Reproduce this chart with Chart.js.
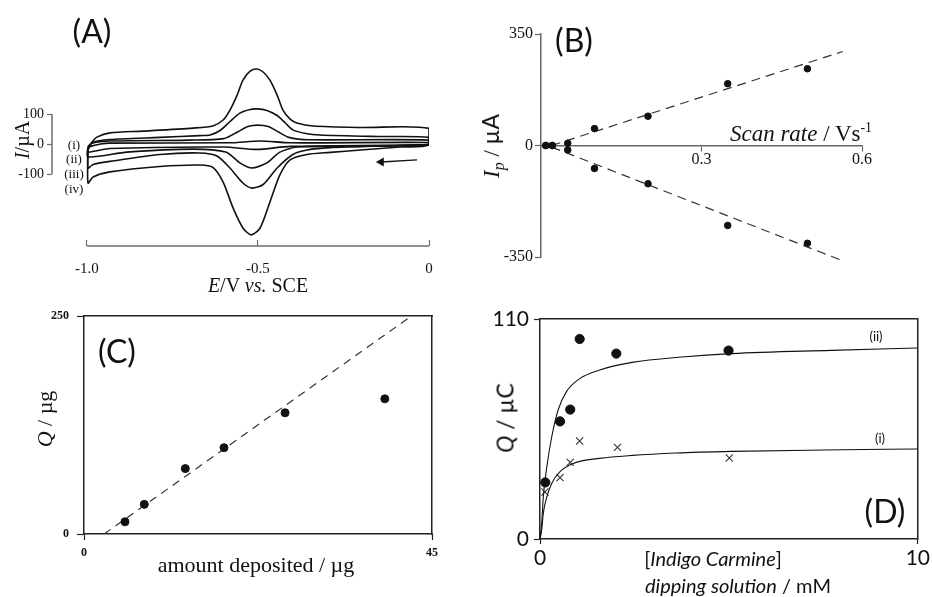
<!DOCTYPE html>
<html>
<head>
<meta charset="utf-8">
<script src="https://cdn.jsdelivr.net/npm/chart.js@4.4.1/dist/chart.umd.min.js"></script>
<style>
  body { margin: 0; background: #fff; }
  #page { position: relative; width: 932px; height: 597px; overflow: hidden; background: #fff; }
  .box { position: absolute; }
  .box canvas { display: block; }
  .t { position: absolute; white-space: nowrap; line-height: 1; color: #111; transform: translate(-50%, -50%); }
  .rot { transform: translate(-50%, -50%) rotate(-90deg); }
  .right { transform: translate(-100%, -50%); }
  .serif { font-family: "Liberation Serif", "DejaVu Serif", serif; }
  .sans { font-family: Lato, "Open Sans", sans-serif; }
  .sub { font-size: 0.7em; vertical-align: -0.3em; }
  .sup { font-size: 0.6em; vertical-align: 0.7em; }
</style>
</head>
<body>
<div id="page">
  <div class="box" style="left:0;top:0"><canvas id="chartA" width="466" height="300"></canvas></div>
  <div class="box" style="left:466px;top:0"><canvas id="chartB" width="466" height="300"></canvas></div>
  <div class="box" style="left:0;top:300px"><canvas id="chartC" width="466" height="297"></canvas></div>
  <div class="box" style="left:466px;top:300px"><canvas id="chartD" width="466" height="297"></canvas></div>

  <!-- panel (A) -->
  <div class="t sans" style="left:92px;top:31px;font-size:32px">(A)</div>
  <div class="t serif rot" style="left:22px;top:140px;font-size:20px"><i>I</i>/µA</div>
  <div class="t serif" style="left:74px;top:144px;font-size:13px">(i)</div>
  <div class="t serif" style="left:74px;top:158px;font-size:13px">(ii)</div>
  <div class="t serif" style="left:74px;top:173px;font-size:13px">(iii)</div>
  <div class="t serif" style="left:74px;top:188px;font-size:13px">(iv)</div>
  <div class="t serif" style="left:258px;top:285px;font-size:20px"><i>E</i>/V <i>vs.</i> SCE</div>

  <!-- panel (B) -->
  <div class="t sans" style="left:574px;top:40px;font-size:32px">(B)</div>
  <div class="t serif rot" style="left:493px;top:146px;font-size:23px"><i>I<span class="sub">p</span></i> / <span class="sans">µA</span></div>
  <div class="t serif right" style="left:872px;top:133px;font-size:23px"><i>Scan rate</i> / Vs<span class="sup">-1</span></div>

  <!-- panel (C) -->
  <div class="t sans" style="left:117px;top:351px;font-size:32px">(C)</div>
  <div class="t serif rot" style="left:45px;top:419px;font-size:22px"><i>Q</i> / µg</div>
  <div class="t serif" style="left:256px;top:565px;font-size:22px">amount deposited / µg</div>

  <!-- panel (D) -->
  <div class="t sans" style="left:885px;top:511px;font-size:32px">(D)</div>
  <div class="t sans" style="left:876px;top:336px;font-size:13px">(ii)</div>
  <div class="t sans" style="left:880px;top:438px;font-size:13px">(i)</div>
  <div class="t sans rot" style="left:505px;top:418px;font-size:23px"><i>Q</i> / µC</div>
  <div class="t sans" style="left:713px;top:558px;font-size:20px">[<i>Indigo Carmine</i>]</div>
  <div class="t sans" style="left:738px;top:585px;font-size:20px"><i>dipping solution</i> / mM</div>
</div>

<script>
// ---- (A) cyclic voltammograms: E / V vs SCE, I / uA, traced round each loop
var cv1E = [-0.997, -0.96, -0.933, -0.582, -0.494, -0.406, 0, 0, -0.406, -0.503, -0.6, -0.933, -0.997, -0.997];
var cv1I = [-10, 0, 3, 4, 10, 4, 5, -2, -8, -18, -10, -15, -27, -10];

var cv2E = [-0.997, -0.985, -0.933, -0.7, -0.6, -0.56, -0.53, -0.5, -0.47, -0.44, -0.41, -0.35, 0,
            0, -0.231, -0.386, -0.436, -0.474, -0.518, -0.553, -0.594, -0.69, -0.883, -0.997, -0.997];
var cv2I = [-8, 3, 10, 13, 18, 40, 58, 63, 58, 40, 22, 14, 13,
            -2, -8, -10, -27, -63, -80, -63, -27, -17, -27, -43, -8];

var cv3E = [-0.997, -0.985, -0.933, -0.787, -0.67, -0.64, -0.611, -0.582, -0.553, -0.523, -0.503, -0.474, -0.444, -0.42, -0.398, -0.36, -0.319, -0.15, 0,
            0, -0.085, -0.289, -0.357, -0.398, -0.444, -0.485, -0.518, -0.544, -0.582, -0.62, -0.67, -0.787, -0.933, -0.982, -0.997, -0.997];
var cv3I = [-13, 5, 15, 22, 28, 30, 45, 75, 103, 115, 117, 112, 95, 70, 47, 35, 30, 25, 22,
            0, -5, -12, -20, -35, -80, -135, -147, -130, -80, -40, -30, -35, -58, -68, -80, -13];

var cv4E = [-0.997, -0.985, -0.971, -0.933, -0.836, -0.69, -0.632, -0.602, -0.582, -0.561, -0.544, -0.523, -0.503, -0.485, -0.465, -0.444, -0.427, -0.406, -0.386, -0.339, -0.2, 0,
            0, -0.085, -0.2, -0.289, -0.357, -0.406, -0.436, -0.465, -0.494, -0.52, -0.544, -0.573, -0.602, -0.632, -0.67, -0.787, -0.933, -0.982, -0.997, -0.997];
var cv4I = [-20, 7, 23, 37, 43, 53, 60, 80, 113, 163, 213, 243, 250, 240, 213, 163, 113, 83, 70, 60, 55, 52,
            -3, -10, -20, -28, -35, -53, -103, -193, -280, -303, -280, -213, -127, -78, -70, -75, -93, -110, -130, -20];

var arrowE = [-0.035, -0.14];
var arrowI = [-53, -60];

var eTicks = [-1, -0.5, 0];
var eTickText = ["-1.0", "-0.5", "0"];
var iTicks = [-100, 0, 100];
var iTickText = ["-100", "0", "100"];

// ---- (B) peak current against scan rate
var scanRate = [0.009, 0.021, 0.05, 0.1, 0.2, 0.349, 0.498];
var ipAnodic = [0, 0, 7, 53, 92, 194, 241];
var ipCathodic = [0, 0, -14, -72, -120, -251, -307];
var fitAnodicX = [0.02, 0.564];
var fitAnodicY = [0, 295];
var fitCathodicX = [0.02, 0.558];
var fitCathodicY = [-5, -358];
var rateTicks = [0.3, 0.6];
var rateTickText = ["0.3", "0.6"];
var ipTicks = [-350, 0, 350];
var ipTickText = ["-350", "0", "350"];

// ---- (C) charge against amount deposited
var deposited = [5.3, 7.8, 13.1, 18.1, 26.0, 38.9];
var chargeC = [14, 34, 75, 99, 139, 155];
var fitCX = [2.6, 42.1];
var fitCY = [0, 248.5];
var depTicks = [0, 45];
var depTickText = ["0", "45"];
var qcTicks = [0, 250];
var qcTickText = ["0", "250"];

// ---- (D) charge against dipping solution concentration
var dipConc = [0.14, 0.53, 0.80, 1.05, 2.02, 4.99];
var chargeII = [28.3, 58.8, 64.7, 100, 92.7, 94.2];
var dipConcX = [0.13, 0.53, 0.80, 1.05, 2.05, 5.01];
var chargeI = [23.5, 30.7, 38.3, 49, 45.8, 40.5];
var curveIIX = [0, 0.045, 0.087, 0.18, 0.31, 0.48, 0.7, 1.06, 1.58, 2.44, 3.76, 5.08, 7.7, 10];
var curveIIY = [0, 8, 21, 36, 51, 64.5, 73.7, 80.3, 84.5, 88.3, 91, 92.7, 94.3, 95.5];
var curveIX = [0, 0.045, 0.087, 0.18, 0.31, 0.53, 0.88, 1.58, 2.44, 3.6, 5.08, 7.5, 10];
var curveIY = [0, 4.5, 12.8, 21, 27.8, 33.7, 37.8, 40.3, 41.8, 43, 43.8, 44.5, 45];
var concTicks = [0, 10];
var concTickText = ["0", "10"];
var qdTicks = [0, 110];
var qdTickText = ["0", "110"];

Chart.defaults.animation = false;
Chart.defaults.plugins.legend.display = false;
Chart.defaults.plugins.tooltip.enabled = false;
Chart.defaults.color = "#111";

var SERIF = "'Liberation Serif', 'DejaVu Serif', serif";
var SANS = "Lato, 'Open Sans', sans-serif";

function pts(xs, ys) {
  return xs.map(function (x, i) {
    return { x: x, y: ys[i] };
  });
}

function fixedSize(px) {
  return function (scale) {
    if (scale.isHorizontal()) scale.height = px;
    else scale.width = px;
  };
}

function onlyTicks(values) {
  return function (scale) {
    scale.ticks = values.map(function (v) {
      return { value: v };
    });
  };
}

function tickAxis(o) {
  return {
    type: "linear",
    position: o.position,
    min: o.min,
    max: o.max,
    afterFit: fixedSize(o.size),
    afterBuildTicks: onlyTicks(o.ticks),
    border: { display: o.border !== false, color: o.color || "#222", width: o.width || 1.5 },
    grid: { drawOnChartArea: false, tickLength: o.tickLength, tickColor: o.color || "#222", tickWidth: 1.2 },
    ticks: {
      padding: o.padding,
      maxRotation: 0,
      autoSkip: false,
      font: o.font,
      color: "#111",
      callback: function (v, i) {
        return o.text[i];
      },
    },
  };
}

function frameAxis(position) {
  return {
    type: "linear",
    position: position,
    min: 0,
    max: 1,
    afterFit: fixedSize(0),
    border: { display: true, color: "#222", width: 1.5 },
    grid: { drawOnChartArea: false, drawTicks: false },
    ticks: { display: false },
  };
}

function curve(xs, ys, extra) {
  var ds = {
    data: pts(xs, ys),
    showLine: true,
    pointRadius: 0,
    borderColor: "#111",
    borderWidth: 1.6,
    tension: 0.25,
  };
  for (var k in extra) ds[k] = extra[k];
  return ds;
}

// axis lines of (A) only run over the labelled range
var partialAxes = {
  id: "partialAxes",
  afterDraw: function (chart) {
    var ctx = chart.ctx;
    var area = chart.chartArea;
    var x = chart.scales.x;
    var y = chart.scales.y;
    ctx.save();
    ctx.strokeStyle = "#6e6e6e";
    ctx.lineWidth = 1.5;
    ctx.beginPath();
    ctx.moveTo(x.getPixelForValue(eTicks[0]), area.bottom);
    ctx.lineTo(x.getPixelForValue(eTicks[eTicks.length - 1]), area.bottom);
    ctx.moveTo(area.left, y.getPixelForValue(iTicks[iTicks.length - 1]));
    ctx.lineTo(area.left, y.getPixelForValue(iTicks[0]));
    ctx.stroke();
    ctx.restore();
  },
};

// ---------------- (A)
new Chart(document.getElementById("chartA"), {
  type: "scatter",
  data: {
    datasets: [
      curve(cv1E, cv1I),
      curve(cv2E, cv2I),
      curve(cv3E, cv3I),
      curve(cv4E, cv4I),
      {
        data: pts(arrowE, arrowI),
        showLine: true,
        borderColor: "#111",
        borderWidth: 1.3,
        pointRadius: [0, 4],
        pointStyle: "triangle",
        rotation: -90,
        pointBackgroundColor: "#111",
        pointBorderColor: "#111",
      },
    ],
  },
  options: {
    responsive: false,
    devicePixelRatio: 1,
    layout: { padding: { left: 0, right: 37, top: 60, bottom: 0 } },
    scales: {
      x: tickAxis({
        position: "bottom", min: -1.1023, max: 0, size: 54, ticks: eTicks, text: eTickText,
        tickLength: -6, padding: 20, border: false, color: "#6e6e6e",
        font: { family: SERIF, size: 15 },
      }),
      y: tickAxis({
        position: "left", min: -340, max: 280, size: 52, ticks: iTicks, text: iTickText,
        tickLength: 5, padding: 3, border: false, color: "#6e6e6e",
        font: { family: SERIF, size: 14 },
      }),
    },
  },
  plugins: [partialAxes],
});

// ---------------- (B)
new Chart(document.getElementById("chartB"), {
  type: "scatter",
  data: {
    datasets: [
      { data: pts(scanRate, ipAnodic), pointRadius: 3.3, backgroundColor: "#111", borderColor: "#111" },
      { data: pts(scanRate, ipCathodic), pointRadius: 3.3, backgroundColor: "#111", borderColor: "#111" },
      curve(fitAnodicX, fitAnodicY, { borderDash: [9, 6], borderWidth: 1.2, borderColor: "#333", tension: 0 }),
      curve(fitCathodicX, fitCathodicY, { borderDash: [9, 6], borderWidth: 1.2, borderColor: "#333", tension: 0, clip: false }),
    ],
  },
  options: {
    responsive: false,
    devicePixelRatio: 1,
    layout: { padding: { left: 0, right: 70, top: 34, bottom: 43 } },
    scales: {
      x: tickAxis({
        position: { y: 0 }, min: 0, max: 0.6, size: 30, ticks: rateTicks, text: rateTickText,
        tickLength: 5, padding: 0, color: "#666", font: { family: SERIF, size: 16 },
      }),
      y: tickAxis({
        position: "left", min: -350, max: 350, size: 75, ticks: ipTicks, text: ipTickText,
        tickLength: 6, padding: 2, color: "#666", font: { family: SERIF, size: 16 },
      }),
    },
  },
});

// ---------------- (C)
new Chart(document.getElementById("chartC"), {
  type: "scatter",
  data: {
    datasets: [
      { data: pts(deposited, chargeC), pointRadius: 4, backgroundColor: "#111", borderColor: "#111" },
      curve(fitCX, fitCY, { borderDash: [8, 6], borderWidth: 1.2, borderColor: "#333", tension: 0 }),
    ],
  },
  options: {
    responsive: false,
    devicePixelRatio: 1,
    layout: { padding: { left: 0, right: 34, top: 16, bottom: 0 } },
    scales: {
      x: tickAxis({
        position: "bottom", min: 0, max: 45, size: 63, ticks: depTicks, text: depTickText,
        tickLength: 6, padding: 6, font: { family: SERIF, size: 12, weight: "bold" },
      }),
      y: tickAxis({
        position: "left", min: 0, max: 250, size: 84, ticks: qcTicks, text: qcTickText,
        tickLength: 7, padding: 8, font: { family: SERIF, size: 12, weight: "bold" },
      }),
      x2: frameAxis("top"),
      y2: frameAxis("right"),
    },
  },
});

// ---------------- (D)
new Chart(document.getElementById("chartD"), {
  type: "scatter",
  data: {
    datasets: [
      curve(curveIIX, curveIIY, { borderWidth: 1.1, cubicInterpolationMode: "monotone" }),
      curve(curveIX, curveIY, { borderWidth: 1.1, cubicInterpolationMode: "monotone" }),
      { data: pts(dipConc, chargeII), pointRadius: 4.6, backgroundColor: "#111", borderColor: "#111" },
      {
        data: pts(dipConcX, chargeI),
        pointStyle: "crossRot",
        pointRadius: 5,
        borderWidth: 1.1,
        borderColor: "#333",
      },
    ],
  },
  options: {
    responsive: false,
    devicePixelRatio: 1,
    layout: { padding: { left: 0, right: 13, top: 19, bottom: 0 } },
    scales: {
      x: tickAxis({
        position: "bottom", min: 0, max: 10, size: 58, ticks: concTicks, text: concTickText,
        tickLength: 5, padding: 2, font: { family: SANS, size: 21 },
      }),
      y: tickAxis({
        position: "left", min: 0, max: 110, size: 74, ticks: qdTicks, text: qdTickText,
        tickLength: 6, padding: 5, font: { family: SANS, size: 21 },
      }),
      x2: frameAxis("top"),
      y2: frameAxis("right"),
    },
  },
});
</script>
</body>
</html>
